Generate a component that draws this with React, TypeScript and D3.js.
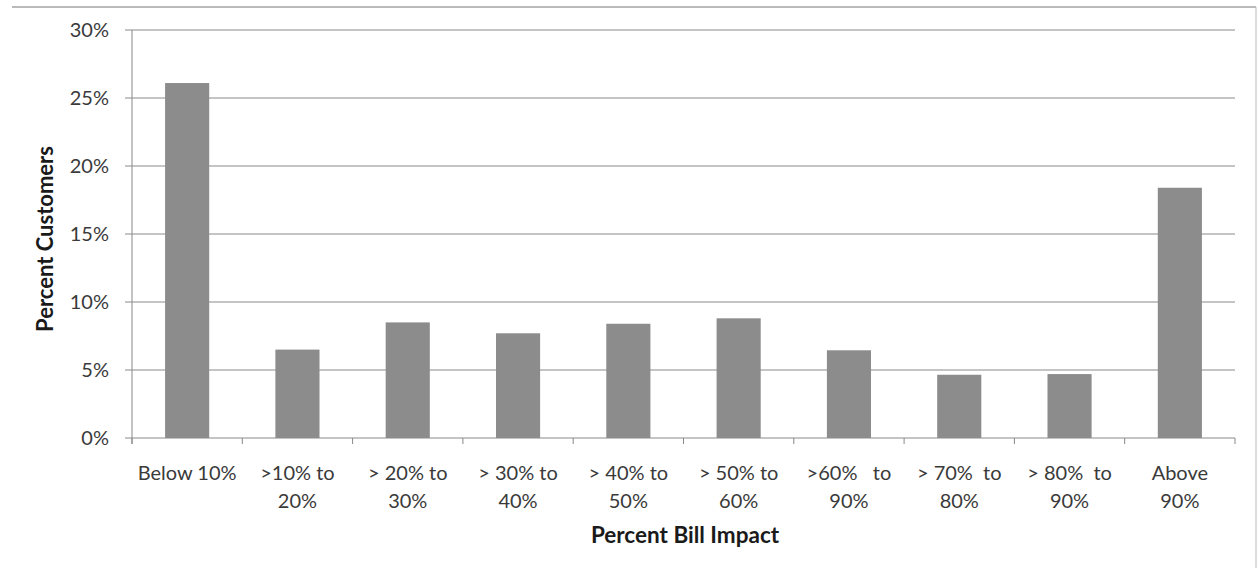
import React from "react";
import * as d3 from "d3";

const categories: string[][] = [
  ["Below 10%"],
  [">10% to", "20%"],
  ["> 20% to", "30%"],
  ["> 30% to", "40%"],
  ["> 40% to", "50%"],
  ["> 50% to", "60%"],
  [">60%   to", "90%"],
  ["> 70%  to", "80%"],
  ["> 80%  to", "90%"],
  ["Above", "90%"],
];
const values: number[] = [26.1, 6.5, 8.5, 7.7, 8.4, 8.8, 6.45, 4.65, 4.7, 18.4];
const yTicks: number[] = [0, 5, 10, 15, 20, 25, 30];
const xTitle = "Percent Bill Impact";
const yTitle = "Percent Customers";

const W = 1258;
const H = 570;
const left = 132;
const right = 1235;
const top = 30;
const bottom = 438;
const font = "Lato, 'Open Sans', sans-serif";

export default function App() {
  const ids = categories.map((_, i) => String(i));
  const x = d3.scaleBand<string>().domain(ids).range([left, right]).paddingInner(0.6).paddingOuter(0.3);
  const xb = d3.scaleBand<string>().domain(ids).range([left, right]);
  const y = d3.scaleLinear().domain([0, 30]).range([bottom, top]);
  const bounds = d3.range(categories.length + 1).map((i) => left + i * xb.step());

  return (
    <svg width={W} height={H} style={{ position: "absolute", left: 0, top: 0, background: "#fff" }}>
      <line x1={12} x2={1256} y1={7} y2={7} stroke="#777" strokeWidth={1} />
      <line x1={1256} x2={1256} y1={7} y2={568} stroke="#bbb" strokeWidth={1} />
      {yTicks.map((t) => (
        <g key={t}>
          <line x1={left - 7} x2={right} y1={y(t)} y2={y(t)} stroke="#8a8a8a" strokeWidth={1} />
          <text x={109} y={y(t)} dy="0.36em" textAnchor="end" fontFamily={font} fontSize={20} fill="#3a3a3a">
            {t + "%"}
          </text>
        </g>
      ))}
      <line x1={left} x2={left} y1={top} y2={bottom + 6} stroke="#888" strokeWidth={1} />
      {bounds.map((b, i) => (
        <line key={i} x1={b} x2={b} y1={bottom} y2={bottom + 6} stroke="#888" strokeWidth={1} />
      ))}
      {values.map((v, i) => (
        <rect key={i} x={x(String(i))} width={x.bandwidth()} y={y(v)} height={y(0) - y(v)} fill="#8c8c8c" />
      ))}
      {categories.map((lines, i) => (
        <text
          key={i}
          x={(xb(String(i)) as number) + xb.bandwidth() / 2}
          y={480}
          textAnchor="middle"
          fontFamily={font}
          fontSize={20}
          fill="#3a3a3a"
          style={{ whiteSpace: "pre" }}
        >
          {lines.map((l, j) => (
            <tspan key={j} x={(xb(String(i)) as number) + xb.bandwidth() / 2} dy={j === 0 ? 0 : 28}>
              {l}
            </tspan>
          ))}
        </text>
      ))}
      <text x={685} y={543} textAnchor="middle" fontFamily={font} fontWeight="bold" fontSize={22.5} fill="#1a1a1a">
        {xTitle}
      </text>
      <text
        transform={`translate(45,${(top + bottom) / 2 + 5}) rotate(-90)`}
        dy="0.36em"
        textAnchor="middle"
        fontFamily={font}
        fontWeight="bold"
        fontSize={22}
        fill="#1a1a1a"
      >
        {yTitle}
      </text>
    </svg>
  );
}
